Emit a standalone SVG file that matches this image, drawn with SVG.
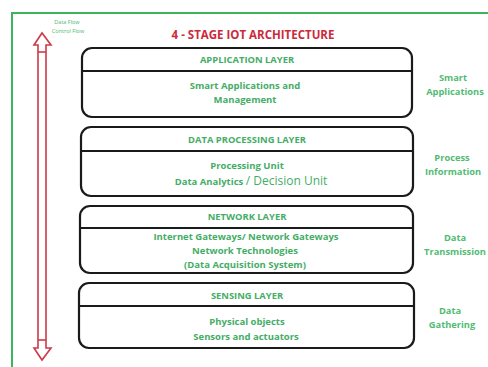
<svg xmlns="http://www.w3.org/2000/svg" width="488" height="367" viewBox="0 0 488 367">
<style>
.box{fill:#fff;stroke:#1a1a1a;stroke-width:2.2}
.div{stroke:#1a1a1a;stroke-width:2}
.hd{font-family:"Open Sans","Liberation Sans",sans-serif;font-size:9.4px;font-weight:bold;fill:#44ad66;text-anchor:middle}
.tx{font-family:"Open Sans","Liberation Sans",sans-serif;font-size:9.5px;font-weight:bold;fill:#44ad66;text-anchor:middle}
.side{font-family:"Open Sans","Liberation Sans",sans-serif;font-size:9.3px;font-weight:bold;fill:#52bb72;text-anchor:middle}
.tiny{font-family:"Open Sans","Liberation Sans",sans-serif;font-size:5.5px;fill:#4cb86c;text-anchor:middle}
.arr{fill:none;stroke:#cc3a48;stroke-width:1.6}
</style>
<rect x="0" y="0" width="488" height="367" fill="#fff"/>
<g id="frame"><path d="M12 372 V13 H492" fill="none" stroke="#3cb45a" stroke-width="2"/></g>
<g id="title"><text x="253" y="39" font-family="Open Sans, Liberation Sans, sans-serif" font-size="11.5" font-weight="bold" fill="#cc2a3c" text-anchor="middle">4 - STAGE IOT ARCHITECTURE</text></g>
<g id="legend"><text class="tiny" x="67" y="24">Data Flow</text><text class="tiny" x="68" y="33">Control Flow</text></g>
<g id="connectors">
<path class="arr" d="M38 45 L34 45 L42 33 L51 45 L46 45 L46 348 L51 348 L42 360 L34 348 L38 348 Z"/>
<line class="arr" x1="38" y1="52" x2="46" y2="52"/>
<line class="arr" x1="38" y1="340" x2="46" y2="340"/>
</g>
<g id="application-layer">
<rect class="box" x="82" y="48" width="330" height="69" rx="10"/>
<line class="div" x1="82" y1="71" x2="412" y2="71"/>
<text class="hd" x="247" y="63">APPLICATION LAYER</text>
<text class="tx" x="245" y="89">Smart Applications and</text>
<text class="tx" x="245" y="103">Management</text>
</g>
<g id="data-processing-layer">
<rect class="box" x="81" y="127" width="332" height="69" rx="10"/>
<line class="div" x1="81" y1="151" x2="413" y2="151"/>
<text class="hd" x="247" y="143">DATA PROCESSING LAYER</text>
<text class="tx" x="247" y="169">Processing Unit</text>
<text class="tx" x="251" y="185">Data Analytics <tspan font-size="12" font-weight="normal">/ Decision Unit</tspan></text>
</g>
<g id="network-layer">
<rect class="box" x="80" y="206" width="333" height="67" rx="10"/>
<line class="div" x1="80" y1="228" x2="413" y2="228"/>
<text class="hd" x="247" y="220">NETWORK LAYER</text>
<text class="tx" x="246" y="240">Internet Gateways/ Network Gateways</text>
<text class="tx" x="245" y="254">Network Technologies</text>
<text class="tx" x="245" y="268">(Data Acquisition System)</text>
</g>
<g id="sensing-layer">
<rect class="box" x="79" y="283" width="335" height="65" rx="10"/>
<line class="div" x1="79" y1="306" x2="414" y2="306"/>
<text class="hd" x="247" y="299">SENSING LAYER</text>
<text class="tx" x="247" y="325">Physical objects</text>
<text class="tx" x="246" y="340">Sensors and actuators</text>
</g>
<g id="side-labels">
<text class="side" x="453" y="81">Smart</text>
<text class="side" x="455" y="95">Applications</text>
<text class="side" x="452" y="161">Process</text>
<text class="side" x="453" y="175">Information</text>
<text class="side" x="455" y="241">Data</text>
<text class="side" x="455" y="255">Transmission</text>
<text class="side" x="450" y="314">Data</text>
<text class="side" x="452" y="328">Gathering</text>
</g>
</svg>
